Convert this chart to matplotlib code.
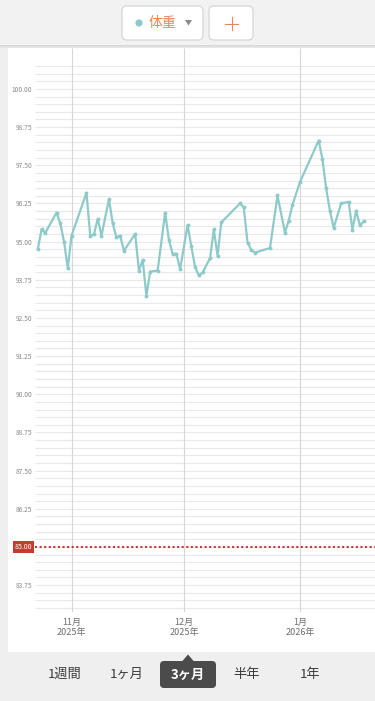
import numpy as np
import matplotlib.pyplot as plt
import matplotlib.dates as mdates
from matplotlib.patches import Rectangle, FancyBboxPatch, Polygon, Circle

plt.rcParams['font.family'] = ['Noto Sans CJK JP', 'DejaVu Sans']

W, H = 375, 701

# weight log
dates = ['2025-10-23', '2025-10-24', '2025-10-25', '2025-10-28', '2025-10-29',
         '2025-10-30', '2025-10-31', '2025-11-01', '2025-11-05', '2025-11-06',
         '2025-11-07', '2025-11-08', '2025-11-09', '2025-11-11', '2025-11-12',
         '2025-11-13', '2025-11-14', '2025-11-15', '2025-11-18', '2025-11-19',
         '2025-11-20', '2025-11-21', '2025-11-22', '2025-11-24', '2025-11-26',
         '2025-11-27', '2025-11-28', '2025-11-29', '2025-11-30', '2025-12-02',
         '2025-12-03', '2025-12-04', '2025-12-05', '2025-12-06', '2025-12-08',
         '2025-12-09', '2025-12-10', '2025-12-11', '2025-12-16', '2025-12-17',
         '2025-12-18', '2025-12-19', '2025-12-20', '2025-12-24', '2025-12-26',
         '2025-12-28', '2025-12-29', '2025-12-30', '2026-01-01', '2026-01-06',
         '2026-01-07', '2026-01-08', '2026-01-09', '2026-01-10', '2026-01-12',
         '2026-01-14', '2026-01-15', '2026-01-16', '2026-01-17', '2026-01-18']
weights = [94.75, 95.40, 95.29, 95.95, 95.60, 95.00, 94.13, 95.19, 96.60, 95.19,
           95.24, 95.75, 95.19, 96.39, 95.60, 95.14, 95.19, 94.70, 95.25, 94.05,
           94.40, 93.23, 94.02, 94.05, 95.95, 95.06, 94.60, 94.60, 94.10, 95.54,
           94.84, 94.17, 93.89, 93.99, 94.46, 95.40, 94.53, 95.63, 96.25, 96.12,
           94.97, 94.73, 94.64, 94.79, 96.51, 95.29, 95.69, 96.20, 96.95, 98.31,
           97.70, 96.74, 96.01, 95.45, 96.25, 96.30, 95.39, 96.01, 95.53, 95.66]
goal = 85.0

month_ticks = ['2025-11-01', '2025-12-01', '2026-01-01']
month_labels = ['11月\n2025年', '12月\n2025年', '1月\n2026年']
y_labels = [83.75, 86.25, 87.50, 88.75, 90.00, 91.25, 92.50, 93.75,
            95.00, 96.25, 97.50, 98.75, 100.00]
periods = ['1週間', '1ヶ月', '3ヶ月', '半年', '1年']
period_x = [65, 127, 188, 247, 310]
active_period = '3ヶ月'

TEAL = '#8fcaca'
ORANGE = '#e6865c'
RED = '#c63a30'


def fig_rect(x0, y0, x1, y1):
	# pixel box (top-left origin) -> figure fraction
	return [x0 / W, 1 - y1 / H, (x1 - x0) / W, (y1 - y0) / H]


fig = plt.figure(figsize=(W / 100, H / 100), dpi=100, facecolor='#efefef')

# ---- app chrome drawn in pixel space ----
ui = fig.add_axes([0, 0, 1, 1])
ui.set_xlim(0, W)
ui.set_ylim(H, 0)
ui.axis('off')

ui.add_patch(Rectangle((8, 48), W - 8, 604, fc='white', ec='none'))
ui.add_patch(Rectangle((0, 0), W, 46, fc='#f2f2f2', ec='none'))
for i, a in enumerate([0.10, 0.06, 0.03]):
	ui.add_patch(Rectangle((0, 45 + i), W, 1, fc='black', alpha=a, ec='none'))

ui.add_patch(FancyBboxPatch((122, 6), 81, 34, boxstyle='round,pad=0,rounding_size=5',
                            fc='white', ec='#d2d2d2', lw=0.8))
ui.add_patch(FancyBboxPatch((209, 6), 44, 34, boxstyle='round,pad=0,rounding_size=5',
                            fc='white', ec='#d2d2d2', lw=0.8))
ui.add_patch(Circle((139, 23), 3.6, fc=TEAL, ec='none'))
ui.text(162, 23, '体重', color=ORANGE, fontsize=10, ha='center', va='center')
ui.add_patch(Polygon([(185, 20), (192, 20), (188.5, 25.5)], fc='#8a8a8a', ec='none'))
ui.plot([231.5, 231.5], [17, 30], color=ORANGE, lw=0.8)
ui.plot([225, 238], [23.5, 23.5], color=ORANGE, lw=0.8)

# period selector
for label, x in zip(periods, period_x):
	if label == active_period:
		ui.add_patch(FancyBboxPatch((160, 661), 56, 27, boxstyle='round,pad=0,rounding_size=4',
		                            fc='#4b4b4b', ec='none'))
		ui.add_patch(Polygon([(182, 661.5), (188, 654.5), (194, 661.5)], fc='#4b4b4b', ec='none'))
		ui.text(x, 674.5, label, color='white', fontsize=9.5, fontweight='bold',
		        ha='center', va='center')
	else:
		ui.text(x, 674.5, label, color='#3a3a3a', fontsize=9.5, ha='center', va='center')

# ---- chart ----
ax = fig.add_axes(fig_rect(35, 48, 375, 612))
ax.patch.set_alpha(0)
for s in ax.spines.values():
	s.set_visible(False)

x = mdates.datestr2num(dates)
months = mdates.datestr2num(month_ticks)
nov1 = months[0]

ax.set_xlim(nov1 - 9.75, nov1 + 81.04)
ax.set_ylim(82.87, 101.34)

ax.hlines(np.arange(83.0, 100.76, 0.25), nov1 - 9.75, nov1 + 81.04,
          color='#e9e9e9', lw=0.8, zorder=1)
ax.vlines(months, 82.87, 101.34, color='#d6d6d6', lw=0.8, zorder=1)

ax.axhline(goal, color=RED, lw=1.5, linestyle=(0, (1, 1.2)), zorder=2)
ax.plot(x, weights, color=TEAL, lw=1.6, marker='o', markersize=2.8,
        markeredgewidth=0, zorder=3)

ax.set_yticks(y_labels, [f'{v:.2f}' for v in y_labels])
ax.set_xticks(months, month_labels)
ax.tick_params(axis='y', length=0, pad=2, labelsize=4.8, labelcolor='#8a8a8a')
ax.tick_params(axis='x', length=0, pad=4, labelsize=6.5, labelcolor='#6e6e6e')
for t in ax.get_xticklabels():
	t.set_linespacing(1.25)

ax.text(-0.007, goal, f'{goal:.2f}', transform=ax.get_yaxis_transform(),
        ha='right', va='center', fontsize=5, color='white', clip_on=False,
        bbox=dict(boxstyle='square,pad=0.25', fc=RED, ec='none'), zorder=4)

plt.savefig('out.png', dpi=100, facecolor=fig.get_facecolor())
